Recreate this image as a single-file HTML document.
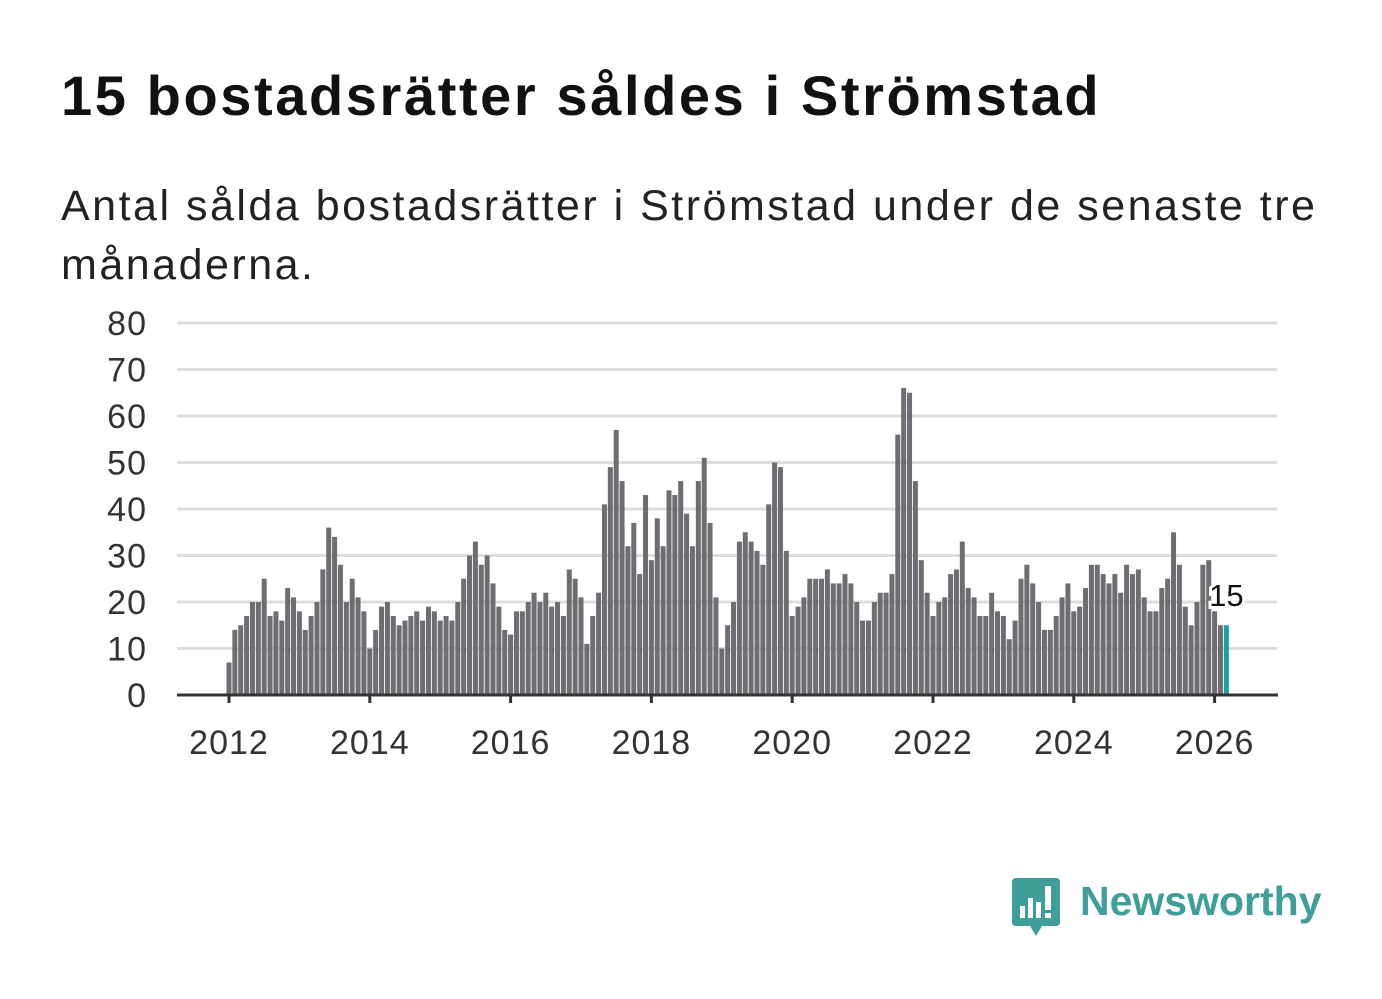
<!DOCTYPE html>
<html><head><meta charset="utf-8"><style>
body{margin:0;background:#fff;width:1382px;height:999px;overflow:hidden;font-family:"Liberation Sans",sans-serif}
h1{position:absolute;left:61px;top:63px;margin:0;font-size:56px;font-weight:bold;color:#111;letter-spacing:2.6px;white-space:nowrap}
p{position:absolute;left:61px;top:177px;margin:0;font-size:43px;line-height:59px;color:#222;width:1300px;letter-spacing:2.5px;white-space:nowrap}
svg{position:absolute;left:0;top:0}
</style></head><body>
<h1>15 bostadsrätter såldes i Strömstad</h1>
<p>Antal sålda bostadsrätter i Strömstad under de senaste tre<br>månaderna.</p>
<svg id="c" width="1382" height="999"></svg>
<div style="position:absolute;left:1012px;top:878px;">
<svg width="50" height="62" style="position:static"><path d="M0 4 Q0 0 4 0 H44 Q48 0 48 4 V44 Q48 48 44 48 H30 L24 58 L18 48 H4 Q0 48 0 44Z" fill="#3f9e98"/><rect x="8" y="28" width="5" height="12" fill="#fff"/><rect x="16" y="20" width="5" height="20" fill="#fff"/><rect x="24" y="24" width="5" height="16" fill="#fff"/><rect x="33" y="8" width="6" height="24" fill="#fff"/><rect x="33" y="35" width="6" height="5" fill="#fff"/></svg>
<span style="position:absolute;left:68px;top:0px;font-size:41px;font-weight:bold;color:#3f9e98;white-space:nowrap">Newsworthy</span></div>
<script>
const values=[7,14,15,17,20,20,25,17,18,16,23,21,
18,14,17,20,27,36,34,28,20,25,21,18,
10,14,19,20,17,15,16,17,18,16,19,18,
16,17,16,20,25,30,33,28,30,24,19,14,
13,18,18,20,22,20,22,19,20,17,27,25,
21,11,17,22,41,49,57,46,32,37,26,43,
29,38,32,44,43,46,39,32,46,51,37,21,
10,15,20,33,35,33,31,28,41,50,49,31,
17,19,21,25,25,25,27,24,24,26,24,20,
16,16,20,22,22,26,56,66,65,46,29,22,
17,20,21,26,27,33,23,21,17,17,22,18,
17,12,16,25,28,24,20,14,14,17,21,24,
18,19,23,28,28,26,24,26,22,28,26,27,
21,18,18,23,25,35,28,19,15,20,28,29,
18,15,15];
const yTicks=[0,10,20,30,40,50,60,70,80];
const xTicks=[2012,2014,2016,2018,2020,2022,2024,2026];
const ns="http://www.w3.org/2000/svg",svg=document.getElementById('c');
const y=v=>695-v*4.65, xm=i=>229+i*70.4/12, xy=yr=>229+(yr-2012)*70.4;
function mk(t,a){const e=document.createElementNS(ns,t);for(const k in a)e.setAttribute(k,a[k]);svg.appendChild(e);return e;}
yTicks.forEach(t=>{
 if(t>0){const g=mk('line',{x1:177,x2:1277,y1:y(t),y2:y(t),stroke:'#ddd','stroke-width':3});
 
 }
 const l=mk('text',{x:147,y:y(t)+12,'text-anchor':'end','font-size':34,fill:'#333','letter-spacing':1});l.textContent=t;
 
 
});
values.forEach((v,i)=>{
 const last=i===values.length-1;
 const b=mk('rect',{x:xm(i)-2.5,y:y(v),width:5,height:v*4.65,fill:last?'#13a39b':'#6e6d72'});
 
 
});
const ax=mk('line',{x1:177,x2:1278,y1:695,y2:695,stroke:'#333','stroke-width':3});


xTicks.forEach(t=>{
 const k=mk('line',{x1:xy(t),x2:xy(t),y1:695,y2:703,stroke:'#333','stroke-width':3});
 
 
 const l=mk('text',{x:xy(t),y:754,'text-anchor':'middle','font-size':34,fill:'#333','letter-spacing':1});l.textContent=t;
 
 
});
const li=values.length-1;
const lab=mk('text',{x:xm(li),y:606,'text-anchor':'middle','font-size':31,fill:'#111',stroke:'#fff','stroke-width':6,'paint-order':'stroke'});
lab.textContent=values[li];


</script>
</body></html>
